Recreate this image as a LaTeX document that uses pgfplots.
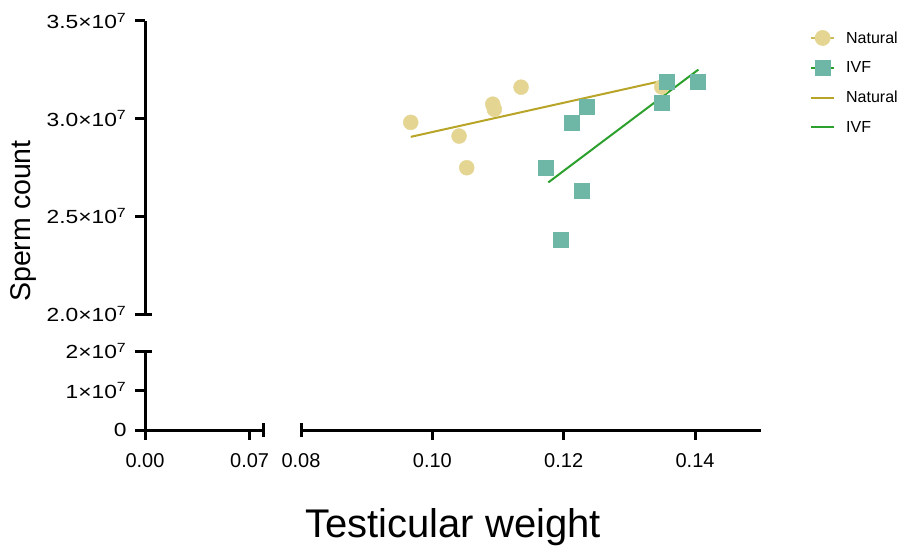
\documentclass[border=0pt]{standalone}
\usepackage{pgfplots}
\pgfplotsset{compat=1.18}
\usepackage{fontspec}
\setmainfont{Liberation Sans}
\definecolor{natfill}{RGB}{228,214,146}
\definecolor{ivffill}{RGB}{110,183,166}
\definecolor{natline}{RGB}{184,164,38}
\definecolor{ivfline}{RGB}{44,160,44}
\newcommand{\yl}[1]{\scalebox{1.2}[1]{#1}}
\pgfplotsset{
  brk/.style={
    scale only axis, clip=false, scaled ticks=false,
    major tick length=10pt,
    tick label style={font=\fontsize{20}{24}\selectfont},
    yticklabel style={font=\fontsize{19}{22}\selectfont, anchor=east, xshift=-5pt},
    xticklabel style={yshift=-10pt},
    minor tick num=0,
  },
  noarrow/.style={
    separate axis lines,
    tick align=outside,
    x axis line style={black, line width=3pt, -},
    y axis line style={black, line width=3pt, -},
    every tick/.style={black, line width=3pt},
    major tick style={black, line width=3pt},
  }
}
\begin{document}
\begin{tikzpicture}
\useasboundingbox (0,0) rectangle (907pt,558pt);
% upper panel
\begin{axis}[brk,
  at={(145pt,244pt)}, anchor=south west,
  width=615.7pt, height=293.3pt,
  xmin=0.05625, xmax=0.15, ymin=2e7, ymax=3.5e7,
  axis x line=none, axis y line=left, noarrow,
  xtick=\empty,
  ytick={2e7,2.5e7,3e7,3.5e7},
  yticklabels={\yl{2.0×10\textsuperscript{7}},\yl{2.5×10\textsuperscript{7}},\yl{3.0×10\textsuperscript{7}},\yl{3.5×10\textsuperscript{7}}},
  legend style={at={(1.080,0.971)}, anchor=north west, draw=none, fill=none,
    font=\fontsize{16}{18}\selectfont, row sep=13pt, inner sep=0pt},
  legend cell align=left,
  legend image code/.code={\draw[mark repeat=2,mark phase=2,#1] plot coordinates {(0pt,0pt) (11.5pt,0pt) (23pt,0pt)}; \path[draw=none,fill=none] (0pt,0pt) -- (33pt,0pt);},
]
\addlegendimage{draw=natline!55!natfill, line width=1.8pt, mark=*, mark options={fill=natfill, draw=natfill, mark size=7pt}}
\addlegendimage{draw=ivfline, line width=1.8pt, mark=square*, mark options={fill=ivffill, draw=ivffill, mark size=7pt}}
\addplot[forget plot, only marks, mark=*, mark size=7.5pt, mark options={fill=natfill, draw=natfill}] coordinates {
 (0.09671,2.980e7) (0.10407,2.910e7) (0.10524,2.748e7) (0.10920,3.073e7)
 (0.10944,3.047e7) (0.11351,3.160e7) (0.13493,3.161e7)};
\addplot[forget plot, only marks, mark=square*, mark size=7.5pt, mark options={fill=ivffill, draw=ivffill}] coordinates {
 (0.12351,3.059e7) (0.12123,2.980e7) (0.11727,2.748e7) (0.12269,2.629e7)
 (0.11949,2.379e7) (0.13573,3.187e7) (0.13493,3.080e7) (0.14041,3.187e7)};
\addplot[color=natline, line width=2pt] coordinates {(0.09671,2.906e7) (0.13493,3.192e7)};
\addplot[color=ivfline, line width=2pt] coordinates {(0.11766,2.673e7) (0.14051,3.250e7)};
\legend{Natural,IVF,Natural,IVF}
\draw[line width=3pt] (rel axis cs:0,0) -- ++(7pt,0pt);
\end{axis}
% lower left panel
\begin{axis}[brk,
  at={(145pt,128pt)}, anchor=south west,
  width=119pt, height=79pt,
  xmin=0, xmax=0.0796, ymin=0, ymax=2e7,
  axis x line=bottom, axis y line=left, noarrow,
  xtick={0,0.07}, xticklabels={0.00,0.07},
  ytick={0,1e7,2e7},
  yticklabels={\yl{0},\yl{1×10\textsuperscript{7}},\yl{2×10\textsuperscript{7}}},
]
\draw[line width=3pt] (rel axis cs:0,1) -- ++(7pt,0pt);
\draw[line width=3pt] (rel axis cs:1,0) ++(0pt,-7pt) -- ++(0pt,14pt);
\end{axis}
% lower right panel
\begin{axis}[brk,
  at={(301pt,128pt)}, anchor=south west,
  width=459.7pt, height=79pt,
  xmin=0.08, xmax=0.15, ymin=0, ymax=2e7,
  axis x line=bottom, axis y line=none, noarrow,
  ytick=\empty,
  xtick={0.10,0.12,0.14}, xticklabels={0.10,0.12,0.14},
  extra x ticks={0.08}, extra x tick labels={0.08},
  extra x tick style={major tick length=7pt, xticklabel style={yshift=-3pt}},
]
\draw[line width=3pt] (rel axis cs:0,0) -- ++(0pt,7pt);
\end{axis}
\node[font=\fontsize{40}{46}\selectfont] at (453pt,31pt) {Testicular weight};
\node[font=\fontsize{28.5}{32}\selectfont, rotate=90] at (24pt,337pt) {Sperm count};
\end{tikzpicture}
\end{document}
